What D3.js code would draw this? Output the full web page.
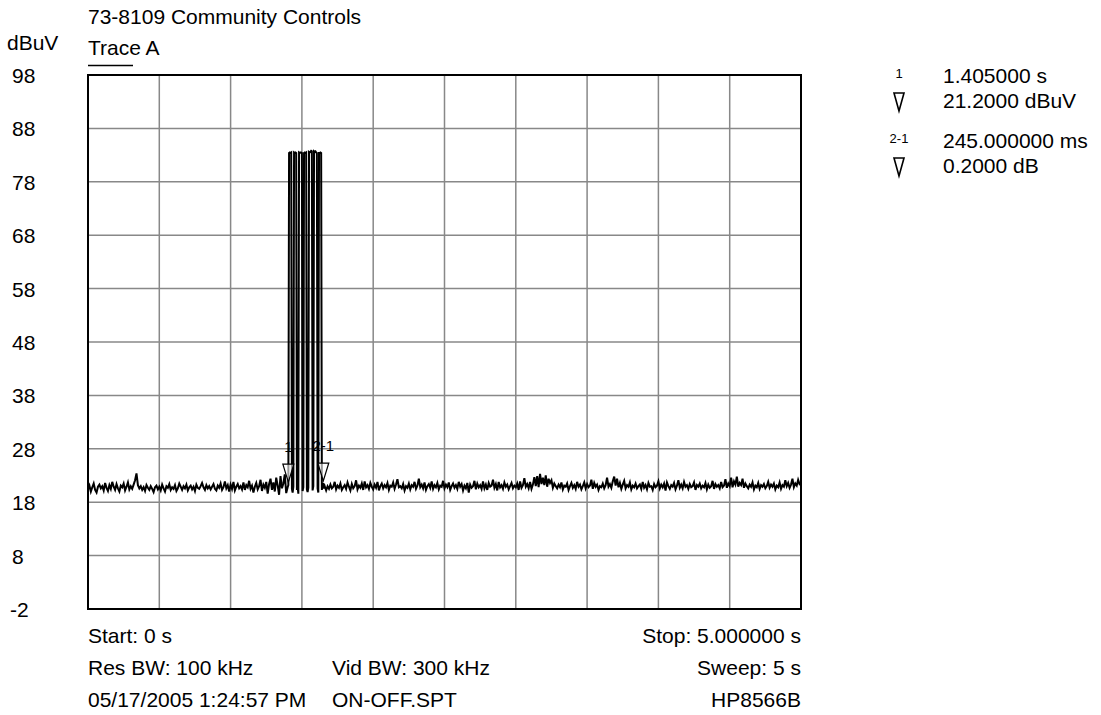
<!DOCTYPE html>
<html>
<head>
    <meta charset="utf-8">
    <script src="https://d3js.org/d3.v7.min.js"></script>
    <style>
        body { margin: 0; background: #fff; }
        text { font-family: "Liberation Sans", Arial, sans-serif; fill: #000; }
        .grid line { stroke: #888; stroke-width: 1.5px; }
        .trace { fill: none; stroke: #000; stroke-width: 2px; }
    </style>
    <title>73-8109 Community Controls</title>
</head>
<body>
<svg id="chart" width="1101" height="715"></svg>
<script>
    // sweep: 0 .. 5 s, scale 98 .. -2 dBuV
    var yTicks = [98, 88, 78, 68, 58, 48, 38, 28, 18, 8, -2];
    var xTicks = [0, 0.5, 1, 1.5, 2, 2.5, 3, 3.5, 4, 4.5, 5];
    var sampleStep = 0.01;   // s between trace samples

    // trace A noise floor, 0.00 .. 1.39 s (dBuV)
    var noiseBefore = [
        20.4, 21.1, 20.0, 20.8, 21.5, 20.3, 19.8, 20.9, 21.3, 20.6,
        21.0, 20.2, 21.6, 20.7, 20.1, 21.2, 20.5, 21.8, 20.9, 20.3,
        21.4, 20.6, 20.0, 21.1, 20.8, 21.5, 20.2, 20.9, 21.7, 20.4,
        21.0, 20.5, 21.3, 22.1, 23.4, 21.2, 20.6, 21.0, 20.3, 20.8,
        20.1, 21.2, 20.7, 20.3, 21.0, 20.5, 19.9, 20.8, 21.1, 20.4,
        20.9, 20.2, 21.3, 20.6, 20.0, 21.0, 20.7, 21.4, 20.3, 20.8,
        20.5, 21.2, 20.1, 20.6, 21.5, 20.9, 20.3, 21.0, 20.6, 21.3,
        20.2, 20.8, 21.1, 20.4, 20.9, 20.1, 21.3, 20.7, 20.5, 21.0,
        21.6, 20.8, 20.3, 21.2, 20.6, 21.0, 20.4, 20.9, 21.4, 20.5,
        20.2, 21.1, 20.7, 21.5, 20.3, 20.8, 21.9, 20.6, 21.2, 20.0,
        21.3, 20.5, 21.8, 20.2, 20.9, 21.4, 20.6, 21.0, 20.4, 21.7,
        20.3, 21.2, 20.8, 22.0, 20.5, 21.1, 19.8, 20.9, 21.6, 20.4,
        21.0, 22.2, 20.1, 21.3, 20.7, 21.8, 19.6, 21.4, 22.4, 20.3,
        21.7, 20.0, 22.6, 21.1, 19.4, 22.9, 20.6, 21.5, 23.2, 19.7
    ];

    // burst section 1.400 .. 1.660 s, 5 ms resolution (dBuV)
    var burstTimes = [
        1.400, 1.405, 1.410, 1.415, 1.420, 1.425, 1.430, 1.435, 1.440, 1.445,
        1.450, 1.455, 1.460, 1.465, 1.470, 1.475, 1.480, 1.485, 1.490, 1.495,
        1.500, 1.505, 1.510, 1.515, 1.520, 1.525, 1.530, 1.535, 1.540, 1.545,
        1.550, 1.555, 1.560, 1.565, 1.570, 1.575, 1.580, 1.585, 1.590, 1.595,
        1.600, 1.605, 1.610, 1.615, 1.620, 1.625, 1.630, 1.635, 1.640, 1.645,
        1.650, 1.655, 1.660
    ];
    var burstLevels = [
        20.8, 21.2, 83.4, 83.5, 83.4, 83.5, 20.5, 19.8, 20.9, 83.5,
        83.4, 83.5, 83.4, 20.3, 21.0, 19.6, 83.5, 83.4, 83.5, 83.5,
        83.4, 20.1, 20.8, 83.4, 83.5, 83.4, 83.5, 20.4, 19.9, 20.7,
        83.6, 83.5, 83.6, 83.8, 83.7, 20.2, 21.0, 83.7, 83.6, 83.7,
        83.5, 83.4, 20.6, 19.8, 83.4, 83.4, 83.5, 83.4, 20.3, 21.4,
        21.4, 20.6, 21.0
    ];

    // trace A noise floor, 1.67 .. 5.00 s (dBuV)
    var afterStart = 1.67;
    var noiseAfter = [
        20.2, 21.0, 20.5,
        21.3, 20.6, 20.9, 21.8, 20.4, 21.1, 20.7, 21.5, 20.3, 20.8,
        21.2, 20.5, 21.7, 20.9, 20.2, 21.4, 20.6, 21.0, 22.1, 20.4,
        21.1, 20.7, 21.5, 20.3, 21.9, 20.8, 21.2, 20.5, 21.6, 20.9,
        20.4, 21.3, 20.7, 21.8, 20.2, 21.0, 21.5, 20.6, 21.2, 20.8,
        21.6, 20.3, 21.1, 20.9, 21.7, 20.5, 21.3, 22.3, 20.8, 21.0,
        20.6, 21.4, 20.2, 21.0, 20.7, 21.5, 20.4, 21.2, 20.9, 21.8,
        20.5, 21.1, 22.4, 20.8, 21.3, 20.6, 21.7, 20.3, 21.0, 21.4,
        20.7, 21.9, 20.5, 21.2, 20.8, 21.6, 20.4, 21.1, 20.9, 22.0,
        20.6, 21.3, 20.8, 21.7, 20.3, 21.0, 21.5, 20.7, 21.2, 20.5,
        21.8, 20.9, 21.4, 20.2, 21.1, 20.6, 21.6, 19.8, 21.3, 20.7,
        21.0, 22.0, 20.4, 21.5, 20.8, 21.2, 20.5, 21.9, 20.6, 21.3,
        20.3, 21.6, 20.9, 21.1, 22.2, 20.7, 21.4, 20.2, 21.8, 20.8,
        21.2, 20.5, 21.7, 20.9, 21.3, 20.4, 21.0, 21.6, 20.6, 21.1,
        20.8, 21.5, 20.3, 21.9, 20.7, 21.2, 22.5, 20.9, 21.4, 20.6,
        21.8, 20.5, 21.3, 22.7, 21.0, 22.9, 20.8, 23.3, 21.4, 22.6,
        21.2, 23.0, 20.9, 22.4, 21.6, 22.1, 20.7, 21.5, 21.0, 20.6,
        21.3, 20.8, 21.7, 20.4, 21.1, 20.9, 21.5, 20.3, 21.0, 21.6,
        20.7, 21.2, 20.5, 21.8, 20.9, 21.3, 20.4, 21.0, 21.7, 20.6,
        21.4, 20.8, 21.1, 22.2, 20.5, 21.6, 20.9, 21.3, 20.3, 21.0,
        20.8, 21.5, 20.6, 21.2, 22.6, 20.9, 21.4, 20.7, 21.9, 22.8,
        21.1, 22.4, 20.8, 21.6, 20.5, 21.3, 22.0, 20.6, 21.2, 20.9,
        21.7, 20.4, 21.1, 20.8, 21.5, 20.6, 21.0, 21.3, 20.5, 21.8,
        20.7, 21.2, 20.4, 21.6, 20.9, 21.0, 20.3, 21.4, 20.8, 21.1,
        21.9, 20.6, 21.3, 20.8, 21.5, 20.2, 21.7, 21.0, 20.5, 21.2,
        20.9, 21.6, 20.4, 21.1, 22.1, 20.7, 21.3, 20.6, 21.8, 20.9,
        21.2, 20.5, 21.4, 20.8, 21.0, 21.7, 20.3, 21.2, 20.9, 21.5,
        20.6, 21.1, 20.8, 21.6, 20.4, 21.3, 20.7, 21.0, 22.0, 20.5,
        21.4, 20.9, 21.2, 20.6, 21.8, 20.8, 21.1, 22.3, 20.7, 21.5,
        21.0, 22.6, 20.8, 21.9, 21.3, 22.8, 20.9, 21.6, 21.2, 22.4,
        20.7, 21.5, 21.0, 20.6, 21.3, 20.9, 21.7, 20.4, 21.1, 20.8,
        21.6, 20.5, 21.2, 20.9, 21.4, 20.6, 21.0, 21.8, 20.7, 21.3,
        20.9, 21.5, 20.4, 21.1, 20.8, 21.7, 20.5, 21.2, 20.9, 22.1,
        21.0, 21.6, 20.7, 21.3, 22.4, 20.8, 21.5, 21.1, 22.2, 21.4,
        21.6
    ];

    var markerNames = ["1", "2-1"];
    var markerTimes = [1.405, 1.650];
    var markerLevels = [21.2, 21.4];
    var markerReadout = [["1.405000 s", "21.2000 dBuV"], ["245.000000 ms", "0.2000 dB"]];

    var footerLeft = ["Start: 0 s", "Res BW: 100 kHz", "05/17/2005 1:24:57 PM"];
    var footerMid = ["", "Vid BW: 300 kHz", "ON-OFF.SPT"];
    var footerRight = ["Stop: 5.000000 s", "Sweep: 5 s", "HP8566B"];

    var svg = d3.select("#chart"),
        margin = { top: 75, left: 88 },
        width = 713,
        height = 534,
        fs = 21;

    var x = d3.scaleLinear().domain([0, 5]).range([margin.left, margin.left + width]);
    var y = d3.scaleLinear().domain([-2, 98]).range([margin.top + height, margin.top]);

    // grid
    var grid = svg.append("g").attr("class", "grid");
    grid.selectAll(".gx").data(xTicks.slice(1, -1)).enter().append("line")
        .attr("x1", function (d) { return x(d); }).attr("x2", function (d) { return x(d); })
        .attr("y1", y(98)).attr("y2", y(-2));
    grid.selectAll(".gy").data(yTicks.slice(1, -1)).enter().append("line")
        .attr("x1", x(0)).attr("x2", x(5))
        .attr("y1", function (d) { return y(d); }).attr("y2", function (d) { return y(d); });

    svg.append("rect")
        .attr("x", x(0)).attr("y", y(98))
        .attr("width", x(5) - x(0)).attr("height", y(-2) - y(98))
        .attr("fill", "none").attr("stroke", "#000").attr("stroke-width", 2);

    // y labels
    svg.selectAll(".ylab").data(yTicks).enter().append("text")
        .attr("x", function (d) { return d < 0 ? 10 : 12; })
        .attr("y", function (d) { return y(d) + 8; })
        .attr("font-size", fs)
        .text(function (d) { return d; });
    svg.append("text").attr("x", 7).attr("y", 50).attr("font-size", fs).text("dBuV");

    // titles
    svg.append("text").attr("x", 88).attr("y", 24).attr("font-size", fs).text("73-8109 Community Controls");
    svg.append("text").attr("x", 88).attr("y", 55).attr("font-size", fs).text("Trace A");
    svg.append("line").attr("x1", 88).attr("x2", 133).attr("y1", 65.5).attr("y2", 65.5)
        .attr("stroke", "#000").attr("stroke-width", 1.5);

    // trace points
    var pts = [];
    noiseBefore.forEach(function (v, i) { pts.push([i * sampleStep, v]); });
    burstTimes.forEach(function (t, i) { pts.push([t, burstLevels[i]]); });
    noiseAfter.forEach(function (v, i) { pts.push([afterStart + i * sampleStep, v]); });

    var line = d3.line()
        .x(function (d) { return x(d[0]); })
        .y(function (d) { return y(d[1]); });

    svg.append("path").datum(pts).attr("class", "trace").attr("d", line);

    // markers on trace
    var tri = function (cx, tipY, w, h) {
        return "M" + (cx - w / 2) + "," + (tipY - h) + "L" + (cx + w / 2) + "," + (tipY - h) + "L" + cx + "," + tipY + "Z";
    };
    markerTimes.forEach(function (t, i) {
        var mx = x(t), my = y(markerLevels[i]);
        svg.append("path").attr("d", tri(mx, my - 3, 11, 18))
            .attr("fill", "#fff").attr("fill-opacity", 0.6).attr("stroke", "#000").attr("stroke-width", 1.2);
        svg.append("text").attr("x", mx).attr("y", my - 33)
            .attr("text-anchor", "middle").attr("font-size", 15).text(markerNames[i]);
    });

    // marker readout
    markerReadout.forEach(function (r, i) {
        var base = 83 + i * 65;
        svg.append("text").attr("x", 899).attr("y", base - 5).attr("text-anchor", "middle")
            .attr("font-size", 13).text(markerNames[i]);
        svg.append("path").attr("d", tri(899, base + 28, 10, 18))
            .attr("fill", "none").attr("stroke", "#000").attr("stroke-width", 1.6);
        svg.append("text").attr("x", 943).attr("y", base).attr("font-size", fs).text(r[0]);
        svg.append("text").attr("x", 943).attr("y", base + 25).attr("font-size", fs).text(r[1]);
    });

    // footer
    [footerLeft, footerMid, footerRight].forEach(function (col, c) {
        col.forEach(function (s, r) {
            svg.append("text")
                .attr("x", c === 0 ? 88 : c === 1 ? 332 : 801)
                .attr("y", 643 + r * 32)
                .attr("text-anchor", c === 2 ? "end" : "start")
                .attr("font-size", fs).text(s);
        });
    });
</script>
</body>
</html>
